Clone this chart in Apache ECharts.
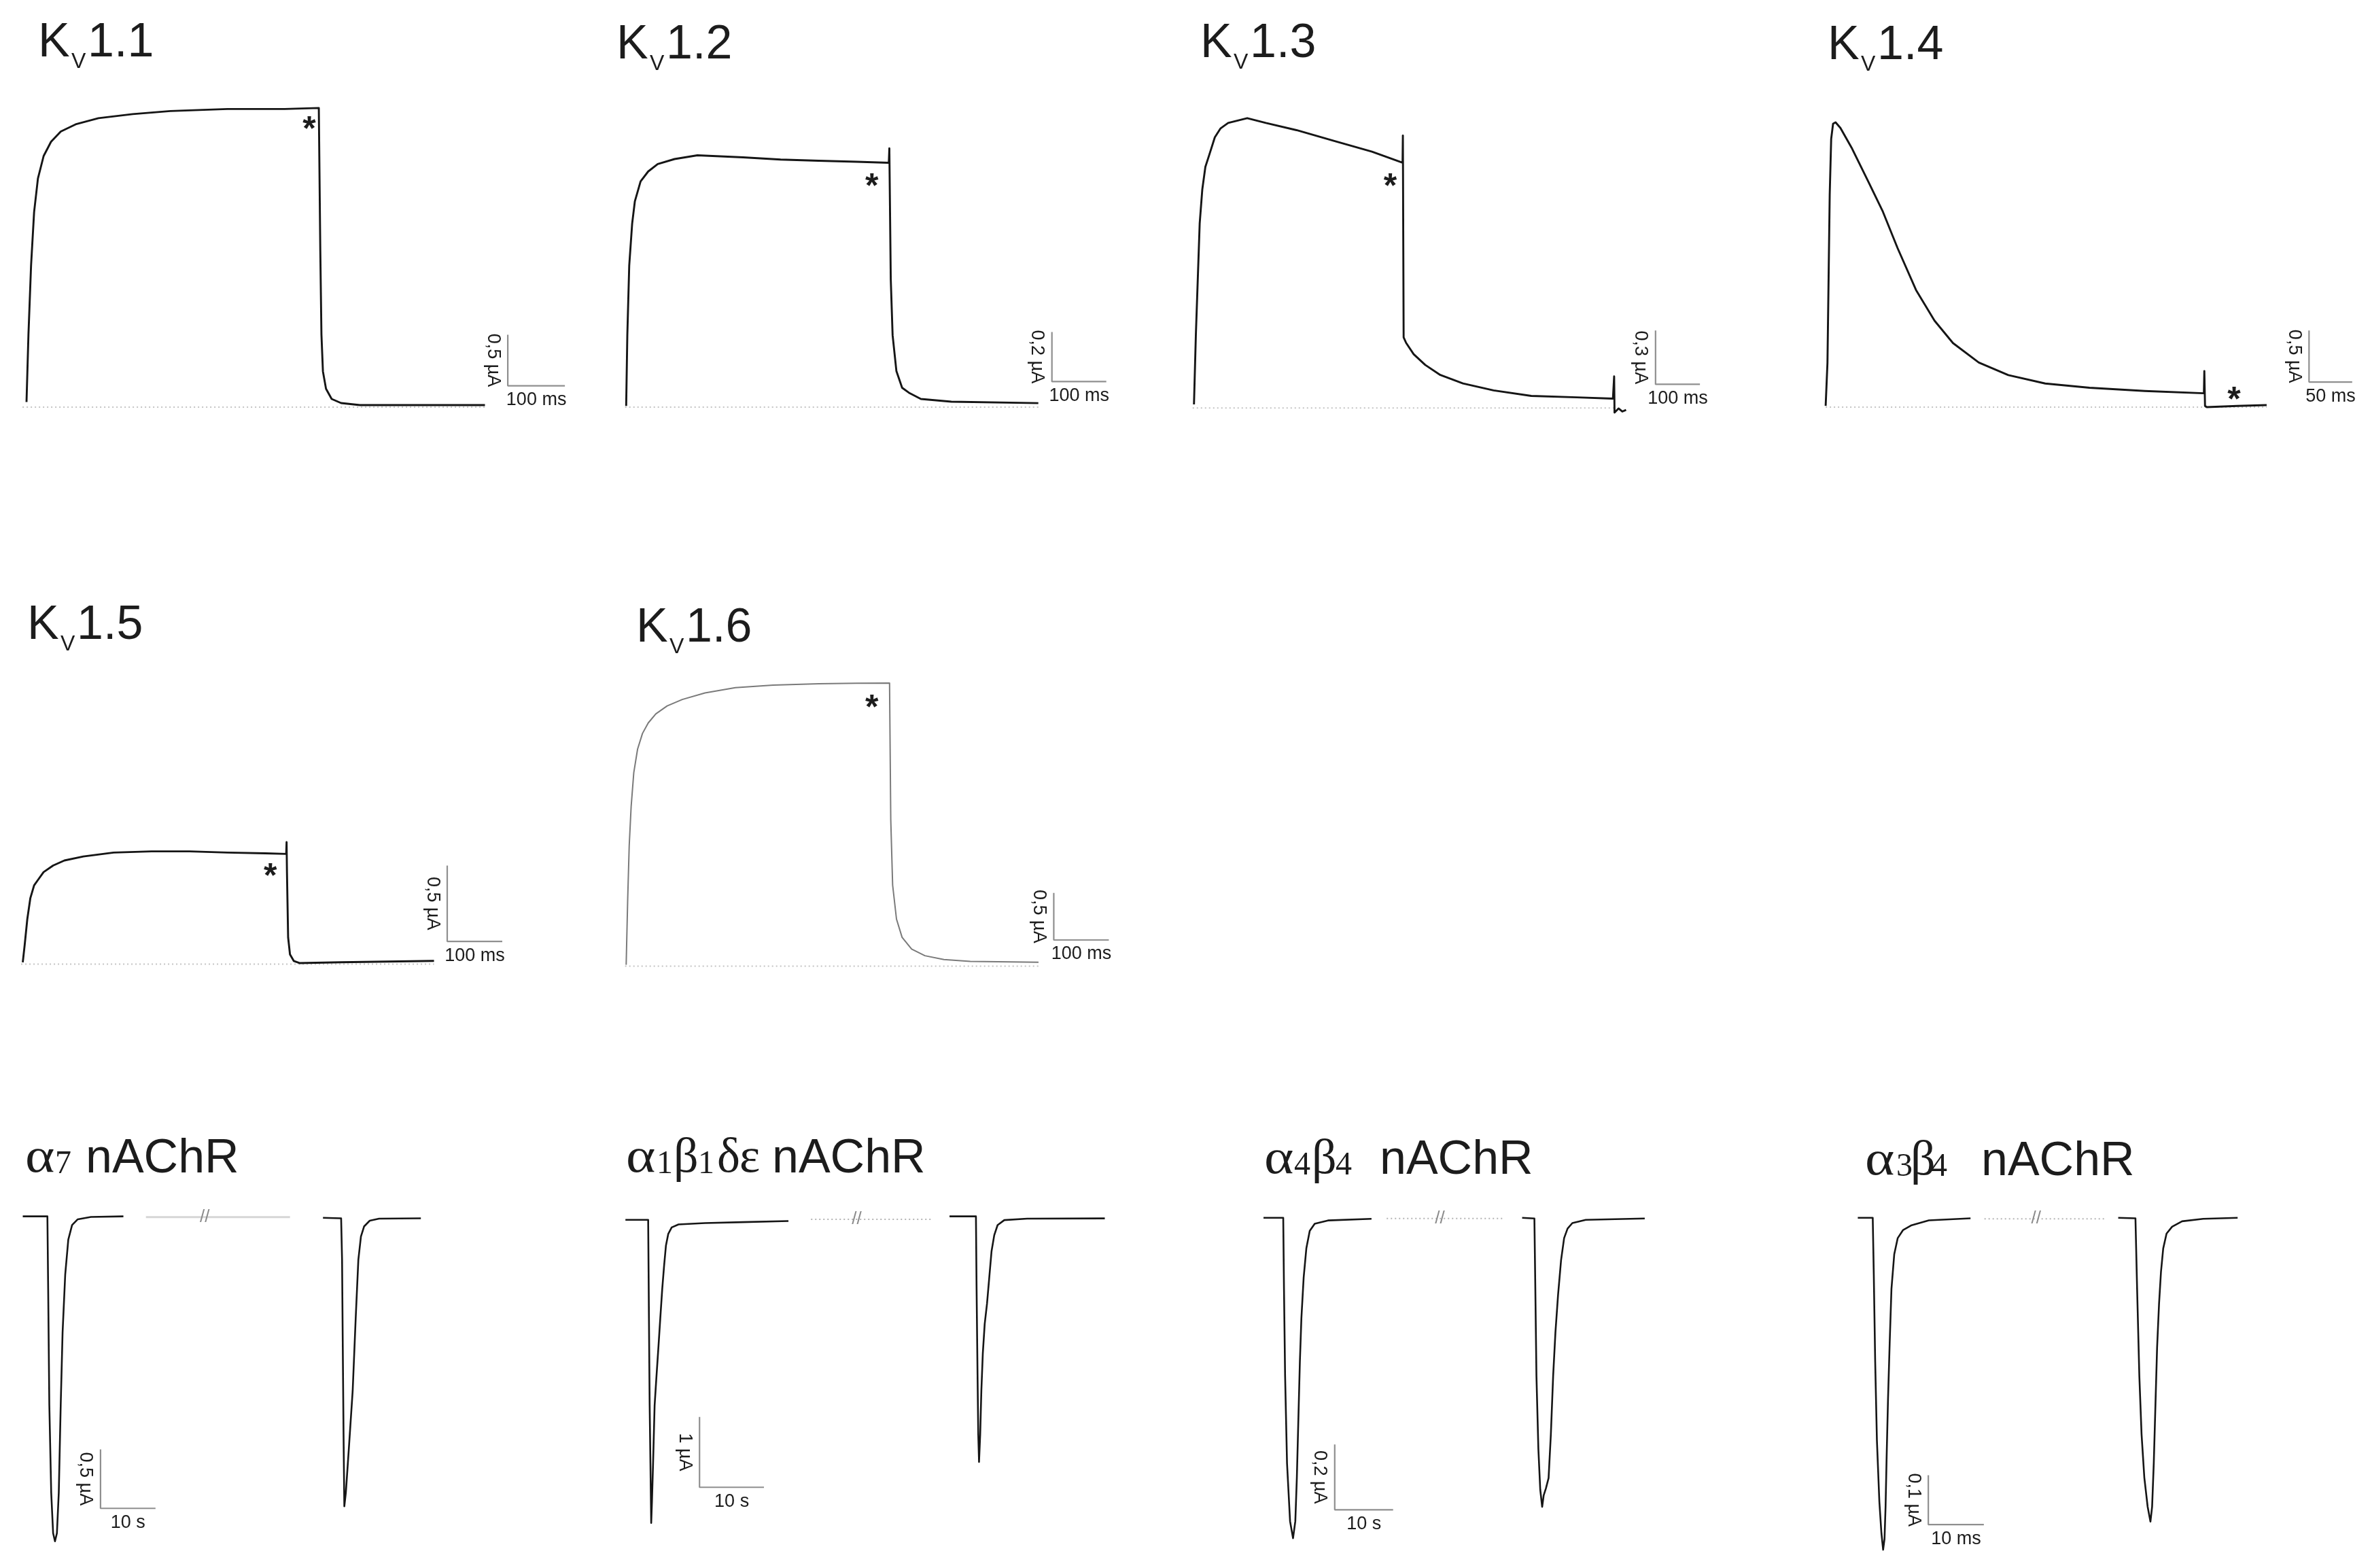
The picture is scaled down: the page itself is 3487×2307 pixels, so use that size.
<!DOCTYPE html>
<html><head><meta charset="utf-8">
<script src="https://cdn.jsdelivr.net/npm/echarts@6/dist/echarts.min.js"></script>
<style>html,body{margin:0;padding:0;background:#fff}#c{width:3487px;height:2307px}</style>
</head><body><div id="c"></div>
<script>
// ---- data: [time, current] pairs (Kv: ms, µA; nAChR: s or ms, µA)
const kv11 = [[0,0.05],[3.4,0.71],[8,1.39],[13.3,1.91],[20,2.24],[30,2.46],[43,2.6],[60,2.7],[86,2.77],[126,2.83],[186,2.87],[252,2.9],[352,2.92],[452,2.92],[512,2.93],[514.6,1.53],[516.6,0.71],[519.2,0.35],[524.6,0.18],[534.5,0.08],[551,0.04],[584,0.02],[803,0.02]];
const kv12 = [[0,0.005],[2.1,0.29],[5.6,0.57],[11,0.74],[16,0.83],[26.5,0.91],[40.5,0.95],[58,0.98],[89,1.0],[131,1.015],[215,1.007],[284,0.998],[354,0.993],[424,0.989],[483,0.985],[484,1.043],[486.6,0.516],[490,0.29],[497,0.145],[507.5,0.078],[521.5,0.056],[542,0.033],[598,0.022],[758,0.016]];
const kv13 = [[0,0.02],[4.3,0.41],[8.6,0.72],[12.9,1.03],[18.8,1.22],[25.7,1.345],[34.2,1.41],[47,1.51],[60,1.56],[77,1.59],[120,1.617],[162,1.59],[231,1.55],[316,1.49],[401,1.43],[470,1.368],[470.7,1.52],[472.4,0.394],[478,0.363],[495,0.3],[521,0.24],[555,0.184],[606,0.137],[675,0.098],[760,0.067],[863,0.059],[944,0.052],[946.7,0.176],[947.6,-0.026],[956.6,-0.003],[965,-0.02],[973.6,-0.011]];
const kv14 = [[0,0.012],[2.1,0.43],[3.4,1.244],[4.7,2.056],[6.4,2.6],[8.6,2.747],[11.5,2.76],[17.1,2.706],[29.9,2.517],[49.2,2.19],[66.3,1.894],[83.4,1.54],[104.7,1.135],[126.1,0.838],[147.5,0.621],[177.4,0.432],[211.6,0.31],[254.4,0.229],[305.7,0.188],[369.8,0.156],[438.2,0.134],[438.7,0.35],[439.5,0.012],[441.6,0],[476.7,0.012],[510.9,0.02]];
const kv15 = [[0,0.012],[3.4,0.124],[8.2,0.296],[13.7,0.434],[20.6,0.52],[27.5,0.555],[37.8,0.607],[55,0.65],[75.7,0.684],[110,0.71],[165,0.736],[234,0.744],[303,0.744],[371.7,0.736],[440.6,0.731],[478.5,0.727],[479.2,0.805],[479.9,0.607],[482,0.176],[485.4,0.064],[492.2,0.021],[502.6,0.007],[578.4,0.012],[747,0.021]];
const kv16 = [[0,0.014],[2.8,0.722],[5.5,1.278],[9,1.694],[13.8,2.055],[20.7,2.305],[29.6,2.472],[40,2.583],[53.8,2.68],[74.4,2.764],[102,2.833],[143.2,2.902],[198.3,2.958],[267.2,2.986],[349.8,3.0],[418.6,3.005],[478.4,3.008],[480.6,1.555],[484,0.861],[491,0.5],[501.2,0.306],[518.5,0.181],[542.6,0.111],[577,0.07],[625,0.05],[749,0.042]];

const a7First  = [[0,0],[4.48,0],[4.62,-0.616],[4.83,-1.6],[5.17,-2.34],[5.52,-2.685],[5.86,-2.754],[6.21,-2.685],[6.55,-2.34],[6.9,-1.6],[7.24,-0.985],[7.72,-0.493],[8.28,-0.197],[8.97,-0.074],[10,-0.025],[12.4,-0.005],[18.3,0]];
const a7Second = [[54.6,-0.012],[57.9,-0.017],[58.07,-0.37],[58.2,-1.108],[58.34,-1.847],[58.48,-2.458],[58.76,-2.34],[59.3,-1.97],[60,-1.478],[60.55,-0.862],[61.03,-0.369],[61.5,-0.172],[62.07,-0.086],[63.1,-0.037],[64.8,-0.02],[72.4,-0.017]];
const a1First  = [[0,-0.008],[3.53,-0.008],[3.65,-1.405],[3.76,-2.645],[3.88,-3.47],[4.0,-4.318],[4.12,-4.008],[4.29,-3.47],[4.53,-2.645],[4.82,-2.23],[5.12,-1.818],[5.41,-1.405],[5.71,-0.992],[6.0,-0.661],[6.29,-0.372],[6.65,-0.207],[7.18,-0.116],[8.24,-0.074],[12.35,-0.054],[18.2,-0.041],[25.3,-0.025]];
const a1Second = [[50.3,0.041],[54.4,0.041],[54.5,-0.992],[54.65,-2.23],[54.76,-3.058],[54.88,-3.45],[55.06,-3.058],[55.24,-2.438],[55.47,-1.9],[55.76,-1.488],[56.12,-1.198],[56.47,-0.826],[56.82,-0.455],[57.24,-0.227],[57.76,-0.083],[58.8,-0.012],[62.35,0.008],[74.4,0.012]];
const a4First  = [[0,0],[3.38,0],[3.51,-0.218],[3.7,-0.484],[4.03,-0.751],[4.55,-0.928],[5.06,-0.98],[5.45,-0.928],[5.71,-0.796],[5.97,-0.618],[6.23,-0.44],[6.49,-0.307],[6.88,-0.182],[7.34,-0.093],[7.92,-0.04],[8.77,-0.018],[11.04,-0.008],[18.5,-0.003]];
const a4Second = [[44.3,0],[46.4,-0.002],[46.56,-0.218],[46.75,-0.484],[47.08,-0.707],[47.4,-0.831],[47.73,-0.884],[47.99,-0.849],[48.38,-0.827],[48.83,-0.796],[49.22,-0.662],[49.61,-0.484],[50,-0.351],[50.45,-0.236],[50.97,-0.129],[51.49,-0.062],[52.08,-0.033],[52.9,-0.016],[55.2,-0.006],[65.3,-0.002]];
const a3First  = [[0,0],[2.69,0],[2.88,-0.115],[3.13,-0.291],[3.44,-0.45],[3.88,-0.574],[4.25,-0.638],[4.56,-0.672],[4.81,-0.65],[5,-0.585],[5.19,-0.485],[5.44,-0.368],[5.75,-0.25],[6.06,-0.144],[6.56,-0.074],[7.19,-0.041],[8.13,-0.025],[9.69,-0.015],[12.8,-0.005],[20.3,-0.001]];
const a3Second = [[46.9,0],[50,-0.001],[50.3,-0.144],[50.7,-0.32],[51.1,-0.438],[51.6,-0.526],[52.2,-0.585],[52.7,-0.615],[53,-0.585],[53.3,-0.497],[53.6,-0.379],[53.9,-0.262],[54.25,-0.174],[54.6,-0.109],[55,-0.062],[55.6,-0.032],[56.6,-0.018],[58.4,-0.007],[62.2,-0.002],[68.4,0]];

// scale bars: [time at bar, current at bar corner, time length, current length]
const scaleBars = [[843,0.209,100,0.5],[783,0.103,100,0.2],[1040,0.132,100,0.3],[560,0.243,50,0.5],[771,0.15,100,0.5],[776.7,0.278,100,0.5],[14.14,-2.475,10,0.5],[11.5,-3.81,10,1],[12.2,-0.893,10,0.2],[12.7,-0.621,10,0.1]];
const timeLabels = ['100 ms','100 ms','100 ms','50 ms','100 ms','100 ms','10 s','10 s','10 s','10 ms'];
const currentLabels = ['0,5 µA','0,2 µA','0,3 µA','0,5 µA','0,5 µA','0,5 µA','0,5 µA','1 µA','0,2 µA','0,1 µA'];
// zero-current baselines (Kv panels): [start, end]
const baselines = [[-7,803],[-2,758],[-3,945],[0,511],[-3,747],[-2,749]];
// recording gaps (nAChR panels): [start, end, level, break mark]
const gaps = [[22.4,48.6,-0.007,33.1],[28.8,47.4,0,35.9],[21.1,40.9,-0.002,30.2],[22.8,44.7,-0.002,32.1]];
const kvNames = ['1.1','1.2','1.3','1.4','1.5','1.6'];

// ---- layout
const W = 3487, H = 2307;
const FS = 'Liberation Sans, Arial, sans-serif';
const SERIF = 'Liberation Serif, Times New Roman, serif';
const INK = '#1c1c1c';
const panels = [
  {x0:39, y0:599, kx:0.84, ky:150.2, traces:[kv11]},
  {x0:921.3, y0:599, kx:0.80, ky:365, traces:[kv12]},
  {x0:1756.7, y0:600.2, kx:0.653, ky:263.7, traces:[kv13]},
  {x0:2686.1, y0:599, kx:1.27, ky:151.8, traces:[kv14]},
  {x0:33.5, y0:1418.5, kx:0.81, ky:223, traces:[kv15]},
  {x0:921.3, y0:1421.5, kx:0.81, ky:138.5, traces:[kv16], grey:true},
  {x0:33.5, y0:1789.6, kx:8.09, ky:173.6, traces:[a7First,a7Second], solidGap:true},
  {x0:920.2, y0:1793.9, kx:9.48, ky:103.5, traces:[a1First,a1Second]},
  {x0:1859, y0:1791.8, kx:8.59, ky:481, traces:[a4First,a4Second]},
  {x0:2733.4, y0:1791.8, kx:8.17, ky:726.8, traces:[a3First,a3Second]}
];
const kvTitlePos = [[56,88],[907,91],[1766,89],[2689,92],[40,945],[936,949]];
const nTitles = [
  {y:1730, parts:[['α',37,'a'],['7',81,'d'],['nAChR',126,'s']]},
  {y:1730, parts:[['α',921,'a'],['1',966,'d'],['β',991,'g'],['1',1027,'d'],['δ',1055,'g'],['ε',1088,'g'],['nAChR',1136,'s']]},
  {y:1732, parts:[['α',1860,'a'],['4',1904,'d'],['β',1930,'g'],['4',1965,'d'],['nAChR',2030,'s']]},
  {y:1734, parts:[['α',2744,'a'],['3',2790,'d'],['β',2811,'g'],['4',2841,'d'],['nAChR',2915,'s']]}
];
const stars = [[455,181.5],[1282.7,265.6],[2045.6,265.6],[3287,579],[397.7,1280],[1282.7,1032]];

const grids = [], xAxes = [], yAxes = [], series = [];
panels.forEach((p, i) => {
  const isKv = i < 6;
  let L = p.x0 - 40, R = p.x0 + 860, T, B;
  if (isKv) { T = p.y0 - 520; B = p.y0 + 50; } else { T = p.y0 - 60; B = p.y0 + 500; }
  L = Math.max(0, L); R = Math.min(W, R); T = Math.max(0, T); B = Math.min(H, B);
  grids.push({left:L, top:T, width:R-L, height:B-T, outerBoundsMode:'none', containLabel:false});
  xAxes.push({type:'value', gridIndex:i, show:false, min:(L-p.x0)/p.kx, max:(R-p.x0)/p.kx, splitLine:{show:false}});
  yAxes.push({type:'value', gridIndex:i, show:false, min:(p.y0-B)/p.ky, max:(p.y0-T)/p.ky, splitLine:{show:false}});
  const common = {type:'line', xAxisIndex:i, yAxisIndex:i, symbol:'none', showSymbol:false, silent:true, animation:false, clip:false};
  if (isKv) {
    const b = baselines[i];
    series.push(Object.assign({}, common, {data:[[b[0],0],[b[1],0]], z:1,
      lineStyle:{color:'#c4c4c4', width:2, type:[2,4]}}));
  } else {
    const g = gaps[i-6];
    series.push(Object.assign({}, common, {data:[[g[0],g[2]],[g[1],g[2]]], z:1,
      lineStyle: p.solidGap ? {color:'#d6d6d6', width:3} : {color:'#b4b4b4', width:2, type:[2,4]}}));
  }
  p.traces.forEach(tr => {
    series.push(Object.assign({}, common, {data:tr, z:3,
      lineStyle:{color: p.grey ? '#7a7a7a' : '#151515', width: p.grey ? 2 : (isKv ? 2.9 : 2.6), join:'round'}}));
  });
  const s = scaleBars[i];
  series.push(Object.assign({}, common, {data:[[s[0], s[1]+s[3]],[s[0], s[1]],[s[0]+s[2], s[1]]], z:2,
    lineStyle:{color:'#8f8f8f', width:2.2}}));
});

const chart = echarts.init(document.getElementById('c'), null, {renderer:'canvas', width:W, height:H});
chart.setOption({backgroundColor:'#fff', animation:false, grid:grids, xAxis:xAxes, yAxis:yAxes, series:series});

// ---- text annotations
function txt(x, baseline, str, fs, family, opts) {
  opts = opts || {};
  return {type:'text', x:x, y: baseline - 0.345*fs, rotation: opts.rot || 0, scaleX: opts.sx || 1, z:10, silent:true,
    style:{text:str, fontSize:fs, fontFamily:family, fontWeight:opts.weight||'normal', fill:opts.fill||INK,
      align:opts.align||'left', verticalAlign:'middle'}};
}
const gfx = [];
kvTitlePos.forEach((t, i) => {
  gfx.push(txt(t[0], t[1], 'K', 70, FS));
  gfx.push(txt(t[0]+49, t[1]+14, 'V', 32, FS));
  gfx.push(txt(t[0]+73, t[1], kvNames[i], 70, FS));
});
nTitles.forEach(t => {
  t.parts.forEach(pt => {
    if (pt[2] === 's') gfx.push(txt(pt[1], t.y, pt[0], 70, FS));
    else if (pt[2] === 'a') gfx.push(txt(pt[1], t.y, pt[0], 72, SERIF, {sx:1.15}));
    else if (pt[2] === 'g') gfx.push(txt(pt[1], t.y, pt[0], 72, SERIF));
    else gfx.push(txt(pt[1], t.y, pt[0], 48, SERIF));
  });
});
stars.forEach(s => {
  gfx.push({type:'text', x:s[0], y:s[1]+11, z:10, silent:true,
    style:{text:'*', fontSize:50, fontFamily:FS, fontWeight:'bold', fill:INK, align:'center', verticalAlign:'middle'}});
});
panels.forEach((p, i) => {
  const s = scaleBars[i];
  const top = chart.convertToPixel({gridIndex:i}, [s[0], s[1]+s[3]]);
  const corner = chart.convertToPixel({gridIndex:i}, [s[0], s[1]]);
  const end = chart.convertToPixel({gridIndex:i}, [s[0]+s[2], s[1]]);
  gfx.push({type:'text', x:corner[0]-22, y:(top[1]+corner[1])/2, rotation:-Math.PI/2, z:10, silent:true,
    style:{text:currentLabels[i], fontSize:27, fontFamily:FS, fill:INK, align:'center', verticalAlign:'middle'}});
  gfx.push({type:'text', x:(corner[0]+end[0])/2, y:corner[1]+21, z:10, silent:true,
    style:{text:timeLabels[i], fontSize:27, fontFamily:FS, fill:INK, align:'center', verticalAlign:'middle'}});
  if (i >= 6) {
    const g = gaps[i-6];
    const m = chart.convertToPixel({gridIndex:i}, [g[3], g[2]]);
    gfx.push({type:'text', x:m[0], y:m[1], z:10, silent:true,
      style:{text:'//', fontSize:26, fontFamily:FS, fill:'#8a8a8a', align:'center', verticalAlign:'middle'}});
  }
});
chart.setOption({graphic:{elements:gfx}});
</script></body></html>
